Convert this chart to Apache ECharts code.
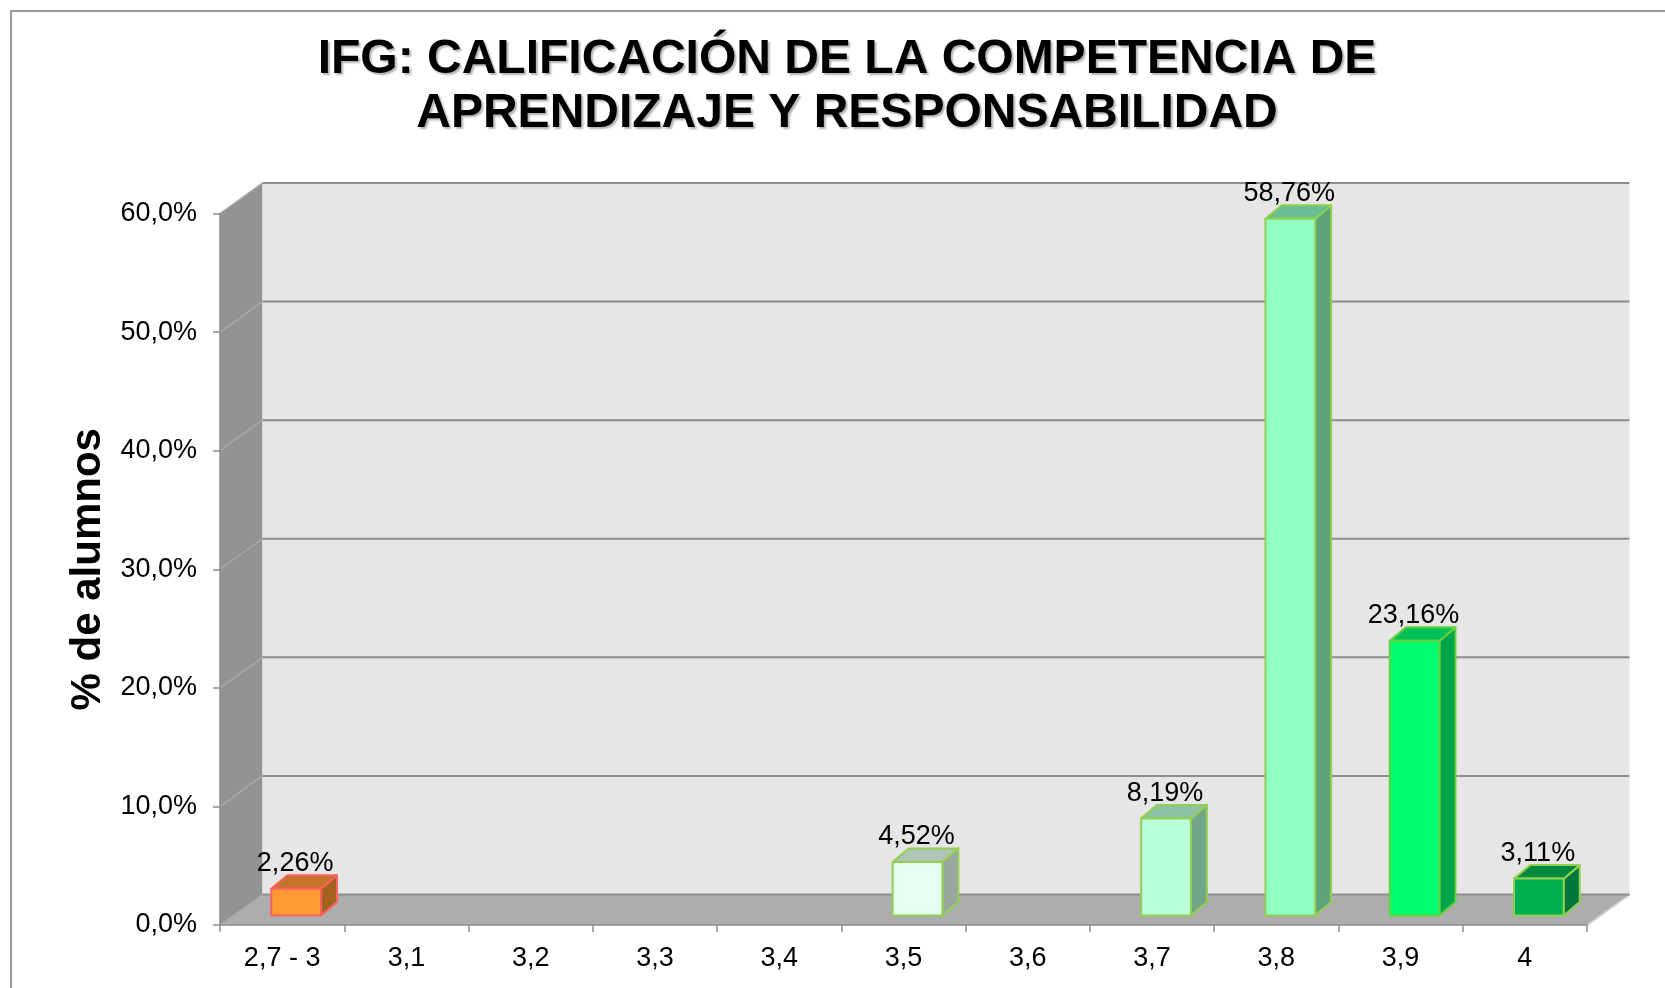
<!DOCTYPE html>
<html>
<head>
<meta charset="utf-8">
<script src="https://cdn.jsdelivr.net/npm/echarts@6/dist/echarts.min.js"></script>
<style>
html,body{margin:0;padding:0;background:#fff;}
#chart{width:1665px;height:988px;}
</style>
</head>
<body>
<div id="chart"></div>
<script>
// ---- data ----
const categories = ['2,7 - 3', '3,1', '3,2', '3,3', '3,4', '3,5', '3,6', '3,7', '3,8', '3,9', '4'];
const percentages = [2.26, 0, 0, 0, 0, 4.52, 0, 8.19, 58.76, 23.16, 3.11];
const yTicks = [0, 10, 20, 30, 40, 50, 60];
const titleText = 'IFG: CALIFICACIÓN DE LA COMPETENCIA DE\nAPRENDIZAJE Y RESPONSABILIDAD';
const yAxisTitle = '% de alumnos';

// ---- styles ----
const frontColors = ['#FF9933', null, null, null, null, '#E5FFF1', null, '#B8FFDA', '#92FFC2', '#00FF6E', '#00B050'];
const topColors   = ['#C6742A', null, null, null, null, '#AFC3B7', null, '#8FC1A7', '#69BF91', '#00BF56', '#008A3E'];
const sideColors  = ['#A5621F', null, null, null, null, '#98A89F', null, '#72A68A', '#5FA37B', '#00A54A', '#00763A'];
const edgeColors  = ['#FF6060', null, null, null, null, '#92D050', null, '#92D050', '#92D050', '#66D040', '#92D050'];
const DEPTH = [42.5, -30.5];      // oblique offset of the back wall
const FACE_SHIFT = [14, -9.5];    // bar front face offset from the front plane
const SIDE = [16, -13.5];         // bar depth
const BAR_RATIO = 0.40;
const FONT = '"Liberation Sans", Arial, Helvetica, sans-serif';

const fmtAxis = v => v.toFixed(1).replace('.', ',') + '%';
const fmtLabel = v => v.toFixed(2).replace('.', ',') + '%';

function renderWalls(params, api) {
  const cs = params.coordSys;
  const x0 = cs.x, x1 = cs.x + cs.width, yTop = cs.y, yBot = cs.y + cs.height;
  const dx = DEPTH[0], dy = DEPTH[1];
  const ch = [];
  ch.push({type: 'polygon', shape: {points: [[x0, yTop], [x0 + dx, yTop + dy], [x0 + dx, yBot + dy], [x0, yBot]]},
           style: {fill: '#939393'}});
  ch.push({type: 'rect', shape: {x: x0 + dx, y: yTop + dy, width: cs.width, height: cs.height},
           style: {fill: '#E6E6E6'}});
  ch.push({type: 'polygon', shape: {points: [[x0, yBot], [x1, yBot], [x1 + dx, yBot + dy], [x0 + dx, yBot + dy]]},
           style: {fill: '#ADADAD'}});
  ch.push({type: 'line', shape: {x1: x1, y1: yBot, x2: x1 + dx, y2: yBot + dy},
           style: {stroke: '#C8C8C8', lineWidth: 2}});
  yTicks.forEach(v => {
    const y = api.coord([0, v])[1];
    ch.push({type: 'line', shape: {x1: x0, y1: y, x2: x0 + dx, y2: y + dy},
             style: {stroke: '#A8A8A8', lineWidth: 1.5}});
    ch.push({type: 'line', shape: {x1: x0 + dx, y1: y + dy, x2: x1 + dx, y2: y + dy},
             style: {stroke: '#8C8C8C', lineWidth: 2}});
  });
  return {type: 'group', children: ch};
}

function renderBar(params, api) {
  const idx = api.value(0), v = api.value(1);
  if (!v) return null;
  const c = api.coord([idx, v]);
  const b = api.coord([idx, 0]);
  const w = api.size([1, 0])[0] * BAR_RATIO;
  const cx = c[0] + FACE_SHIFT[0];
  const top = c[1] + FACE_SHIFT[1];
  const bot = b[1] + FACE_SHIFT[1];
  const xl = cx - w / 2, xr = cx + w / 2;
  const sx = SIDE[0], sy = SIDE[1];
  const edge = edgeColors[idx];
  return {type: 'group', children: [
    {type: 'polygon', shape: {points: [[xr, top], [xr + sx, top + sy], [xr + sx, bot + sy], [xr, bot]]},
     style: {fill: sideColors[idx], stroke: edge, lineWidth: 2, lineJoin: 'round'}},
    {type: 'polygon', shape: {points: [[xl, top], [xr, top], [xr + sx, top + sy], [xl + sx, top + sy]]},
     style: {fill: topColors[idx], stroke: edge, lineWidth: 2, lineJoin: 'round'}},
    {type: 'rect', shape: {x: xl, y: top, width: w, height: bot - top},
     style: {fill: frontColors[idx], stroke: edge, lineWidth: 2}},
    {type: 'text', x: cx - 1, y: top + sy + 2,
     style: {text: fmtLabel(v), fill: '#000', fontSize: 27, fontFamily: FONT, align: 'center', verticalAlign: 'bottom'}}
  ]};
}

const chart = echarts.init(document.getElementById('chart'), null, {renderer: 'canvas'});
chart.setOption({
  backgroundColor: '#fff',
  animation: false,
  title: {
    text: titleText, left: 842, textAlign: 'center', top: 28,
    textStyle: {fontSize: 48, fontWeight: 'bold', color: '#000', fontFamily: FONT, lineHeight: 54,
                textShadowColor: 'rgba(0,0,0,0.3)', textShadowOffsetX: 2, textShadowOffsetY: 2, textShadowBlur: 2}
  },
  graphic: [{type: 'rect', shape: {x: 11, y: 11, width: 1700, height: 1020},
             style: {fill: null, stroke: '#9A9A9A', lineWidth: 2}, silent: true, z: -10}],
  grid: {left: 220, right: 78, top: 213.5, bottom: 63, containLabel: false},
  xAxis: {
    type: 'category', data: categories, z: 5,
    axisLine: {show: true, lineStyle: {color: '#8C8C8C', width: 1.5}},
    axisTick: {show: true, interval: 0, length: 7, lineStyle: {color: '#8C8C8C', width: 1.5}},
    axisLabel: {interval: 0, margin: 20, fontSize: 27, color: '#000', fontFamily: FONT},
    splitLine: {show: false}
  },
  yAxis: {
    type: 'value', min: 0, max: 60, interval: 10, z: 5,
    name: yAxisTitle, nameLocation: 'middle', nameGap: 109,
    nameTextStyle: {fontSize: 42, fontWeight: 'bold', color: '#000', fontFamily: FONT},
    axisLine: {show: true, lineStyle: {color: '#8C8C8C', width: 1.5}},
    axisTick: {show: true, length: 7, lineStyle: {color: '#8C8C8C', width: 1.5}},
    axisLabel: {margin: 23, fontSize: 27, color: '#000', fontFamily: FONT, formatter: fmtAxis},
    splitLine: {show: false}
  },
  series: [
    {type: 'custom', silent: true, z: 1, renderItem: renderWalls, data: [[0, 0]]},
    {type: 'custom', silent: true, z: 3, renderItem: renderBar,
     data: percentages.map((v, i) => [i, v])}
  ]
});
</script>
</body>
</html>
